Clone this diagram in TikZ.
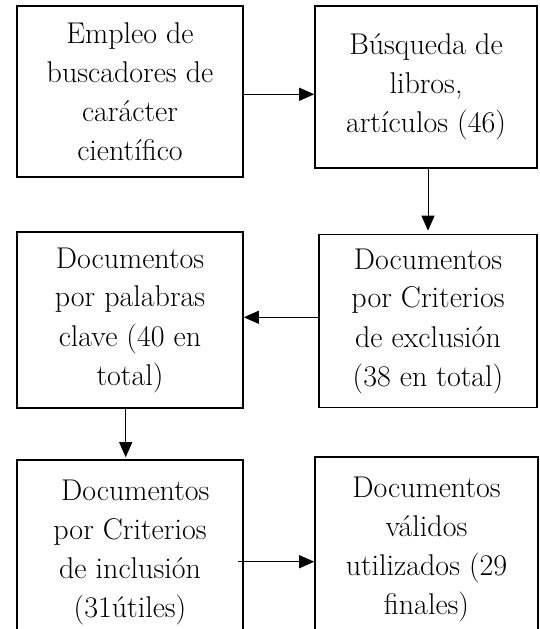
\documentclass[tikz,border=0pt]{standalone}
\usepackage{fontspec}
\usetikzlibrary{arrows.meta,calc}
\tikzset{
  boxnode/.style={draw=black, line width=1.6pt, rectangle, inner sep=0pt, align=center,
    font=\fontsize{30}{39}\selectfont},
  arr/.style={line width=0.9pt, -{Triangle[length=15pt,width=13pt]}}
}
\begin{document}
\begin{tikzpicture}[x=1pt,y=-1pt]
\useasboundingbox (0,0) rectangle (540,629);
\clip (0,0) rectangle (540,629);
\node[boxnode, minimum width=226pt, minimum height=171pt] (b1) at (130,91.5)
  {Empleo de\\buscadores de\\carácter\\científico};
\node[boxnode, minimum width=222pt, minimum height=162pt] (b2) at (426,87)
  {Búsqueda de\\libros,\\artículos (46)};
\node[boxnode, minimum width=218pt, minimum height=173pt] (b3) at (428,321)
  {Documentos\\por Criterios\\de exclusión\\(38 en total)};
\node[boxnode, minimum width=226pt, minimum height=176pt] (b4) at (130,320)
  {Documentos\\por palabras\\clave (40 en\\total)};
\node[boxnode, minimum width=226pt, minimum height=184pt] (b5) at (130,552)
  {\hspace{0.35em}Documentos\\por Criterios\\de inclusión\\(31útiles)};
\node[boxnode, minimum width=223pt, minimum height=184pt] (b6) at (426.5,549)
  {Documentos\\válidos\\utilizados (29\\finales)};
\draw[arr] (b1.east |- 0,94.3) -- (b2.west |- 0,94.3);
\draw[arr, shorten >=3pt] (b2.south -| 428,0) -- (b3.north -| 428,0);
\draw[arr] (b3.west |- 0,317.3) -- (b4.east |- 0,317.3);
\draw[arr, shorten >=2pt] (b4.south -| 125.7,0) -- (b5.north -| 125.7,0);
\draw[arr] ($(b5.east |- 0,561.7)+(-5.5,0)$) -- (b6.west |- 0,561.7);
\end{tikzpicture}
\end{document}
